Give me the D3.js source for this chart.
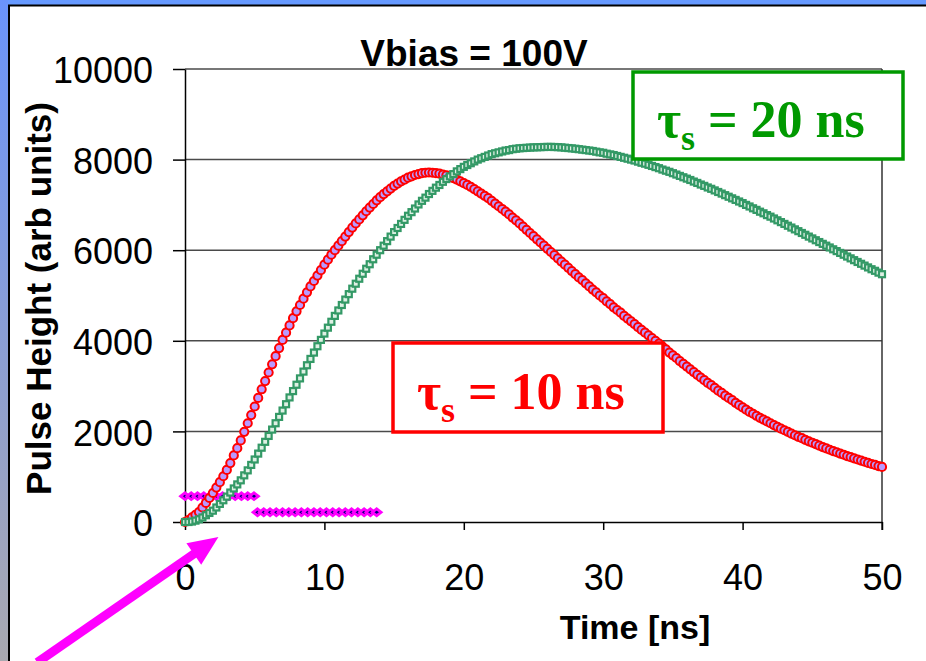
<!DOCTYPE html>
<html>
<head>
<meta charset="utf-8">
<script src="https://cdn.jsdelivr.net/npm/d3@7"></script>
<style>
body { margin: 0; background: #fff; overflow: hidden; }
svg { display: block; }
</style>
</head>
<body>
<div id="chart"></div>
<script>
(function(){

// sample spacing of the scope trace (ns)
var sampleStep = 0.25;

// tau_s = 10 ns trace, one row per ns
var pulse10 = [
  0, 40, 100, 160,
  220, 320, 420, 530,
  640, 760, 880, 1010,
  1150, 1300, 1470, 1630,
  1800, 1990, 2180, 2360,
  2550, 2740, 2930, 3110,
  3300, 3480, 3660, 3840,
  4020, 4180, 4340, 4500,
  4650, 4790, 4930, 5070,
  5200, 5320, 5440, 5560,
  5680, 5790, 5900, 6000,
  6100, 6200, 6300, 6400,
  6500, 6590, 6680, 6770,
  6860, 6940, 7020, 7100,
  7170, 7240, 7300, 7360,
  7420, 7470, 7520, 7560,
  7600, 7630, 7660, 7680,
  7700, 7710, 7715, 7710,
  7700, 7690, 7670, 7650,
  7620, 7590, 7560, 7520,
  7480, 7440, 7400, 7350,
  7300, 7250, 7200, 7150,
  7090, 7030, 6970, 6910,
  6850, 6790, 6720, 6660,
  6590, 6520, 6450, 6380,
  6310, 6240, 6170, 6100,
  6030, 5960, 5890, 5820,
  5750, 5680, 5610, 5540,
  5470, 5400, 5340, 5270,
  5200, 5130, 5070, 5000,
  4940, 4870, 4810, 4740,
  4680, 4620, 4550, 4490,
  4430, 4370, 4300, 4240,
  4180, 4120, 4060, 4000,
  3940, 3870, 3810, 3740,
  3680, 3620, 3550, 3490,
  3430, 3370, 3310, 3250,
  3190, 3130, 3070, 3020,
  2960, 2900, 2850, 2790,
  2740, 2690, 2630, 2580,
  2530, 2480, 2430, 2390,
  2345, 2300, 2260, 2220,
  2180, 2140, 2100, 2060,
  2025, 1990, 1950, 1915,
  1880, 1850, 1815, 1780,
  1750, 1720, 1685, 1655,
  1625, 1595, 1565, 1540,
  1510, 1485, 1455, 1430,
  1405, 1380, 1355, 1330,
  1305, 1280, 1260, 1235,
  1215
];

// tau_s = 20 ns trace
var pulse20 = [
  0, 0, 10, 30,
  60, 100, 150, 200,
  250, 320, 400, 480,
  560, 650, 740, 830,
  920, 1030, 1140, 1260,
  1380, 1510, 1640, 1770,
  1900, 2040, 2180, 2320,
  2460, 2600, 2750, 2890,
  3030, 3170, 3320, 3460,
  3600, 3740, 3880, 4020,
  4160, 4290, 4420, 4550,
  4670, 4790, 4910, 5030,
  5150, 5260, 5370, 5480,
  5590, 5690, 5800, 5900,
  6000, 6100, 6200, 6300,
  6400, 6490, 6580, 6670,
  6760, 6840, 6920, 7010,
  7090, 7160, 7240, 7310,
  7380, 7440, 7510, 7570,
  7630, 7680, 7740, 7790,
  7840, 7880, 7920, 7960,
  8000, 8030, 8060, 8090,
  8120, 8140, 8160, 8180,
  8200, 8210, 8230, 8240,
  8250, 8255, 8260, 8265,
  8270, 8272, 8275, 8278,
  8280, 8280, 8278, 8275,
  8270, 8262, 8255, 8248,
  8240, 8230, 8220, 8210,
  8200, 8190, 8175, 8160,
  8150, 8130, 8115, 8100,
  8080, 8060, 8040, 8020,
  8000, 7980, 7955, 7930,
  7910, 7885, 7860, 7835,
  7810, 7780, 7755, 7730,
  7700, 7670, 7640, 7610,
  7580, 7550, 7515, 7485,
  7450, 7420, 7385, 7355,
  7320, 7285, 7250, 7215,
  7180, 7145, 7110, 7075,
  7040, 7000, 6965, 6925,
  6890, 6850, 6815, 6775,
  6740, 6700, 6660, 6620,
  6580, 6540, 6500, 6460,
  6420, 6380, 6340, 6300,
  6260, 6220, 6180, 6140,
  6100, 6060, 6020, 5980,
  5940, 5900, 5860, 5820,
  5780, 5740, 5700, 5660,
  5620, 5580, 5545, 5505,
  5470
];

// gate / trigger markers (magenta)
var gateTimes = [0, 0.45, 0.9, 1.35, 1.8, 2.25, 2.7, 3.15, 3.6, 4.05, 4.5, 4.95];
var gateValues = [570, 570, 570, 570, 570, 570, 570, 570, 570, 570, 570, 570];
var sampleTimes = [5.2, 5.65, 6.1, 6.55, 7.0, 7.45, 7.9, 8.35, 8.8, 9.25, 9.7, 10.15,
                   10.6, 11.05, 11.5, 11.95, 12.4, 12.85, 13.3, 13.75];
var sampleValues = [215, 215, 215, 215, 215, 215, 215, 215, 215, 215, 215, 215,
                    215, 215, 215, 215, 215, 215, 215, 215];

var xTicks = [0, 10, 20, 30, 40, 50];
var yTicks = [0, 2000, 4000, 6000, 8000, 10000];

var W = 926, H = 661;
var margin = {top: 69, right: 44, bottom: 139, left: 185};
var width = W - margin.left - margin.right,
    height = H - margin.top - margin.bottom;

var sans = "'Liberation Sans', Arial, Helvetica, sans-serif";
var serif = "'Liberation Serif', 'Times New Roman', serif";

var svg = d3.select("#chart").append("svg")
    .attr("width", W)
    .attr("height", H);

// slide frame: blue bar on top, blue->grey strip on the left
var defs = svg.append("defs");
var grad = defs.append("linearGradient")
    .attr("id", "sideGrad")
    .attr("x1", 0).attr("y1", 0).attr("x2", 0).attr("y2", 1);
grad.append("stop").attr("offset", "0%").attr("stop-color", "#6a93fb");
grad.append("stop").attr("offset", "100%").attr("stop-color", "#a9a9b0");

svg.append("rect").attr("width", W).attr("height", H).attr("fill", "#fff");
svg.append("rect").attr("x", 0).attr("y", 0).attr("width", W).attr("height", 5).attr("fill", "#6699ff");
svg.append("rect").attr("x", 0).attr("y", 0).attr("width", 8).attr("height", H).attr("fill", "url(#sideGrad)");
svg.append("line").attr("x1", 8).attr("x2", W).attr("y1", 5.5).attr("y2", 5.5)
    .attr("stroke", "#000").attr("stroke-width", 2);
svg.append("line").attr("x1", 9).attr("x2", 9).attr("y1", 5).attr("y2", H)
    .attr("stroke", "#000").attr("stroke-width", 2);

var x = d3.scaleLinear().domain([0, 50]).range([0, width]);
var y = d3.scaleLinear().domain([0, 10000]).range([height, 0]);

var g = svg.append("g")
    .attr("transform", "translate(" + margin.left + "," + margin.top + ")");

// gridlines
g.append("g")
    .selectAll("line")
    .data(yTicks.filter(function(d) { return d > 0; }))
    .enter().append("line")
    .attr("x1", 0).attr("x2", width)
    .attr("y1", function(d) { return y(d); })
    .attr("y2", function(d) { return y(d); })
    .attr("stroke", "#4a4a4a")
    .attr("stroke-width", 1.5);

// right edge of plot area
g.append("line")
    .attr("x1", width).attr("x2", width)
    .attr("y1", 0).attr("y2", height + 8)
    .attr("stroke", "#333").attr("stroke-width", 1.5);

var yAxis = g.append("g")
    .call(d3.axisLeft(y).tickValues(yTicks).tickFormat(d3.format("d"))
      .tickSize(12).tickPadding(20).tickSizeOuter(0));
yAxis.select(".domain").attr("stroke", "#000").attr("stroke-width", 1.5);
yAxis.selectAll(".tick line").attr("stroke", "#000").attr("stroke-width", 1.5);
yAxis.selectAll(".tick text")
    .attr("dy", "0.38em")
    .style("font-family", sans).style("font-size", "36px").attr("fill", "#000");

var xAxis = g.append("g")
    .attr("transform", "translate(0," + height + ")")
    .call(d3.axisBottom(x).tickValues(xTicks).tickFormat(d3.format("d"))
      .tickSize(8).tickPadding(34).tickSizeOuter(0));
xAxis.select(".domain").attr("stroke", "#000").attr("stroke-width", 1.5);
xAxis.selectAll(".tick line").attr("stroke", "#000").attr("stroke-width", 1.5);
xAxis.selectAll(".tick text")
    .style("font-family", sans).style("font-size", "36px").attr("fill", "#000");

// labels
svg.append("text")
    .attr("x", 474).attr("y", 66)
    .attr("text-anchor", "middle")
    .style("font-family", sans).style("font-weight", "bold").style("font-size", "37px")
    .text("Vbias = 100V");

svg.append("text")
    .attr("x", 635).attr("y", 639)
    .attr("text-anchor", "middle")
    .style("font-family", sans).style("font-weight", "bold").style("font-size", "34px")
    .text("Time [ns]");

svg.append("text")
    .attr("transform", "translate(51," + (margin.top + height / 2 + 3) + ") rotate(-90)")
    .attr("text-anchor", "middle")
    .style("font-family", sans).style("font-weight", "bold").style("font-size", "35px")
    .text("Pulse Height (arb units)");

// boxed tau labels
function tauBox(bx, by, bw, bh, tx, ty, col, txt) {
  svg.append("rect")
      .attr("x", bx).attr("y", by).attr("width", bw).attr("height", bh)
      .attr("fill", "#fff").attr("stroke", col).attr("stroke-width", 3.5);
  var t = svg.append("text")
      .attr("x", tx).attr("y", ty)
      .attr("fill", col)
      .style("font-family", serif).style("font-weight", "bold").style("font-size", "52px");
  t.append("tspan").text("\u03c4");
  t.append("tspan").attr("dy", 13).style("font-size", "36px").text("s");
  t.append("tspan").attr("dy", -13).text("\u00a0= " + txt + "\u00a0ns");
}
tauBox(633, 72, 270, 87, 657, 137, "#009900", "20");
tauBox(393, 343, 270, 89, 417, 409, "#ff0000", "10");

// series
var times = d3.range(pulse10.length).map(function(i) { return i * sampleStep; });

var diamond = "M0,-3.4L4.4,0L0,3.4L-4.4,0Z";

var gateG = g.append("g");
gateG.selectAll("path.gate")
    .data(gateTimes.map(function(t, i) { return [t, gateValues[i]]; }))
    .enter().append("path")
    .attr("class", "gate")
    .attr("d", diamond)
    .attr("transform", function(d) { return "translate(" + x(d[0]) + "," + y(d[1]) + ")"; })
    .attr("fill", "#000080").attr("stroke", "#ff00ff").attr("stroke-width", 2.8);
gateG.selectAll("path.samp")
    .data(sampleTimes.map(function(t, i) { return [t, sampleValues[i]]; }))
    .enter().append("path")
    .attr("class", "samp")
    .attr("d", diamond)
    .attr("transform", function(d) { return "translate(" + x(d[0]) + "," + y(d[1]) + ")"; })
    .attr("fill", "#000080").attr("stroke", "#ff00ff").attr("stroke-width", 2.8);

g.append("g").selectAll("circle")
    .data(pulse10)
    .enter().append("circle")
    .attr("cx", function(d, i) { return x(times[i]); })
    .attr("cy", function(d) { return y(d); })
    .attr("r", 4.1)
    .attr("fill", "#b999ff")
    .attr("stroke", "#ff0000")
    .attr("stroke-width", 2);

g.append("g").selectAll("rect")
    .data(pulse20)
    .enter().append("rect")
    .attr("x", function(d, i) { return x(times[i]) - 3; })
    .attr("y", function(d) { return y(d) - 3; })
    .attr("width", 6).attr("height", 6)
    .attr("fill", "#dff0e4")
    .attr("stroke", "#339966")
    .attr("stroke-width", 2.2);

// magenta pointer arrow (data units)
var arrowTail = [-10.6, -3100], arrowTip = [2.4, -330];
var ax0 = x(arrowTail[0]) + margin.left, ay0 = y(arrowTail[1]) + margin.top,
    ax1 = x(arrowTip[0]) + margin.left, ay1 = y(arrowTip[1]) + margin.top;
var dx = ax1 - ax0, dy = ay1 - ay0, len = Math.sqrt(dx * dx + dy * dy);
var ux = dx / len, uy = dy / len, headLen = 30, headW = 13;
var bx = ax1 - ux * headLen, by = ay1 - uy * headLen;
svg.append("line")
    .attr("x1", ax0).attr("y1", ay0)
    .attr("x2", bx + ux * 2).attr("y2", by + uy * 2)
    .attr("stroke", "#ff00ff").attr("stroke-width", 9);
svg.append("path")
    .attr("d", "M" + ax1 + "," + ay1 +
               "L" + (bx - uy * headW) + "," + (by + ux * headW) +
               "L" + (bx + uy * headW) + "," + (by - ux * headW) + "Z")
    .attr("fill", "#ff00ff");

})();
</script>
</body>
</html>
